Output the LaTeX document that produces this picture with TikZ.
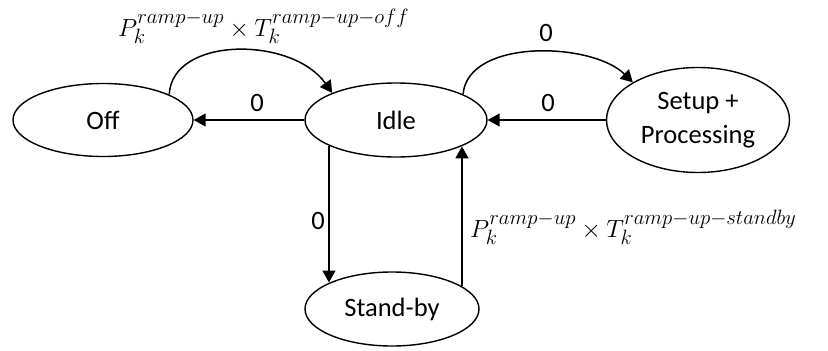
\documentclass[tikz,border=0pt]{standalone}
\usepackage{fontspec}
\setmainfont{Carlito}
\usetikzlibrary{arrows.meta,shapes.geometric}
\DeclareMathSizes{28}{28}{20}{15}
\begin{document}
\begin{tikzpicture}[x=1pt,y=-1pt,
  state/.style={draw,ellipse,line width=1.4pt,inner sep=0pt,font=\fontsize{26.5}{34}\selectfont,align=center},
  conn/.style={line width=1.5pt,-{Triangle[length=12pt,width=13pt]}},
  lbl/.style={font=\fontsize{26.5}{30}\selectfont,inner sep=0pt},
  mlbl/.style={font=\fontsize{28}{32}\selectfont,inner sep=0pt,anchor=base west}]
\useasboundingbox (0,0) rectangle (828,351);
\node[state,minimum width=180pt,minimum height=73pt] (off) at (103,120) {Off};
\node[state,minimum width=182pt,minimum height=74pt] (idle) at (396,120) {Idle};
\node[state,minimum width=183pt,minimum height=105pt] (setup) at (698,120) {Setup +\\Processing};
\node[state,minimum width=174pt,minimum height=74pt] (standby) at (392,309) {Stand-by};
% horizontal
\draw[conn] (idle.west) -- (off.east);
\draw[conn] (setup.west) -- (idle.east);
% curves
\draw[conn] (off.21) .. controls (172,36) and (292,36) .. (idle.157);
\draw[conn] (idle.21) .. controls (468,38) and (592,42) .. (setup.150);
% verticals
\draw[conn] (idle.201.8) -- (idle.201.8 |- standby.157);
\draw[conn] (standby.18) -- (standby.18 |- idle.338);
% labels
\node[lbl] (l1) at (257,103) {0};
\node[lbl] (l2) at (548,103) {0};
\node[lbl] (l3) at (546,33) {0};
\node[lbl] (l4) at (318,221) {0};
\node[mlbl] (m1) at (118,36) {$P_k^{ramp-up}\times T_k^{ramp-up-off}$};
\node[mlbl] (m2) at (470,237) {$P_k^{ramp-up}\times T_k^{ramp-up-standby}$};
\end{tikzpicture}
\end{document}
